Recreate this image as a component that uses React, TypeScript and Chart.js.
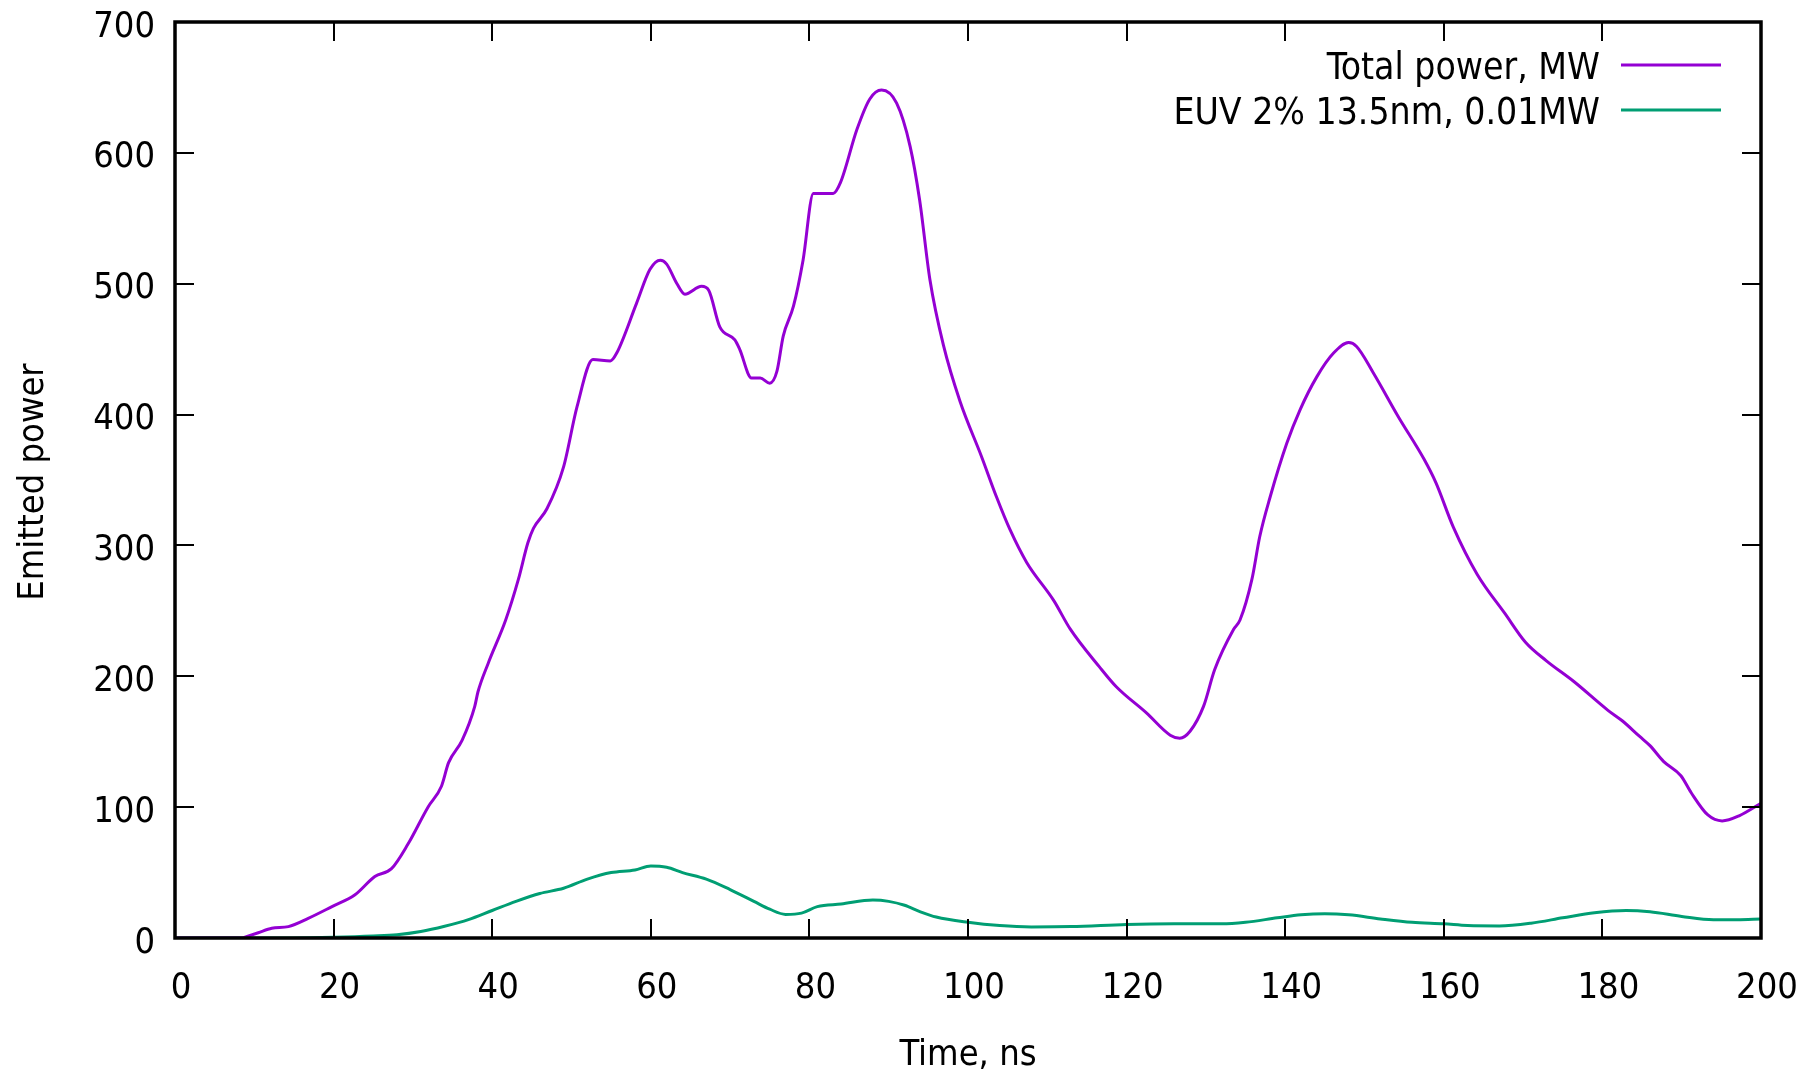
import React, { useEffect, useRef } from "react";
import { Chart, registerables } from "chart.js";

Chart.register(...registerables);

// ---- Data ----
const totalTime = [0, 8.5, 9, 10.5, 12.2, 14.3, 16.8, 19.8, 22.7, 25.2, 27.3, 29.4, 31.9, 33.6, 34.5, 36.2, 37.8, 38.2, 39.5, 41.7, 43.3, 44.5, 45.2, 46.9, 49.0, 50.7, 52.7, 54.9, 55.7, 58.2, 59.9, 61.2, 62.0, 63.3, 64.3, 66.4, 67.3, 68.7, 70.6, 71.2, 72.7, 73.8, 75.0, 75.9, 76.7, 78.0, 79.2, 80.5, 83.0, 83.9, 86.0, 87.6, 89.1, 91.0, 92.7, 93.9, 95.2, 96.9, 99.0, 101.7, 103.6, 105.3, 107.4, 110.8, 112.9, 116.6, 118.7, 122.5, 125.5, 126.7, 128.0, 129.7, 131.1, 133.5, 134.3, 135.8, 136.8, 138.1, 140.2, 141.9, 144.0, 146.1, 148.0, 149.0, 151.1, 154.3, 157.5, 159.0, 161.2, 164.2, 167.7, 170.3, 172.9, 176.4, 180.7, 182.5, 184.7, 186.0, 187.7, 189.9, 191.2, 193.3, 195.1, 197.3, 200];
const totalPower = [0, 0, 1, 4, 7.4, 8.7, 15, 24, 33, 47, 53, 72, 100, 116, 134, 151, 177, 188, 210, 243, 274, 302, 313, 328, 360, 406, 442, 441, 447, 485, 511, 518, 515, 500, 492, 498, 495, 467, 457, 450, 428, 428, 424, 433, 460, 483, 518, 569, 569, 577, 618, 641, 648, 638, 605, 564, 503, 453, 410, 368, 337, 312, 287, 258, 236, 207, 192, 172, 155, 152.7, 158, 177, 205, 236, 243, 274, 307, 337, 378, 404, 429, 447, 455, 452, 432, 398, 366, 348, 314, 278, 248, 226, 212, 196, 174, 166, 154, 147, 135, 124, 111, 94, 89.5, 93.6, 103];

const euvTime = [0, 10, 15, 20, 25, 28, 31, 34, 37, 40, 43, 46, 49, 52, 55, 58, 60, 62, 64, 67, 70, 73, 75, 77, 79, 81, 84, 88, 90, 92, 94, 96, 100, 104, 108, 113, 120, 126, 132, 135, 139, 142, 145, 148, 152, 156, 160, 163, 167, 171, 175, 179, 183, 186, 190, 194, 197, 200];
const euvPower = [0, 0, 0, 0.5, 1.5, 2.5, 5, 9, 14, 21, 28, 34, 38, 45, 50, 52, 55, 54, 50, 45, 37, 28, 22, 18, 19, 24, 26, 29, 28, 25, 20, 16, 12, 9.5, 8.5, 8.7, 10.3, 10.8, 10.8, 12, 15.4, 17.7, 18.5, 17.7, 14.6, 12, 10.8, 9.5, 9.2, 11.3, 15.4, 19.3, 21, 20, 16.5, 14, 14, 14.6];

const xTicks = [0, 20, 40, 60, 80, 100, 120, 140, 160, 180, 200];
const yTicks = [0, 100, 200, 300, 400, 500, 600, 700];
const seriesLabels = ["Total power, MW", "EUV 2% 13.5nm, 0.01MW"];
const seriesColors = ["#9400D3", "#009E73"];
const xTitle = "Time, ns";
const yTitle = "Emitted power";

const FONT = '"DejaVu Sans Condensed", "DejaVu Sans", sans-serif';
const FS = 36;

const decorPlugin = {
  id: "gnuplotDecor",
  afterDatasetsDraw(chart: any) {
    const ctx = chart.ctx;
    const { left, right, top, bottom } = chart.chartArea;
    const xs = chart.scales.x;
    const ys = chart.scales.y;
    ctx.save();
    // ticks (inward, mirrored)
    ctx.strokeStyle = "#000";
    ctx.lineWidth = 2;
    const tl = 19;
    ctx.beginPath();
    for (const v of xTicks) {
      const px = Math.round(xs.getPixelForValue(v));
      ctx.moveTo(px, bottom);
      ctx.lineTo(px, bottom - tl);
      ctx.moveTo(px, top);
      ctx.lineTo(px, top + tl);
    }
    for (const v of yTicks) {
      const py = Math.round(ys.getPixelForValue(v));
      ctx.moveTo(left, py);
      ctx.lineTo(left + tl, py);
      ctx.moveTo(right, py);
      ctx.lineTo(right - tl, py);
    }
    ctx.stroke();
    // frame
    ctx.lineWidth = 3.5;
    ctx.strokeRect(left, top, right - left, bottom - top);

    // tick labels
    ctx.fillStyle = "#000";
    ctx.font = `${FS}px ${FONT}`;
    ctx.textAlign = "right";
    ctx.textBaseline = "alphabetic";
    for (const v of yTicks) {
      const py = ys.getPixelForValue(v);
      ctx.fillText(String(v), 155, py + 14.5);
    }
    ctx.textAlign = "center";
    for (const v of xTicks) {
      const px = xs.getPixelForValue(v);
      ctx.fillText(String(v), px + 6, 998);
    }
    // axis titles
    ctx.fillText(xTitle, (left + right) / 2, 1065);
    ctx.save();
    ctx.translate(42.5, 482);
    ctx.rotate(-Math.PI / 2);
    ctx.fillText(yTitle, 0, 0);
    ctx.restore();

    // legend
    ctx.textAlign = "right";
    ctx.font = `${FS + 1}px ${FONT}`;
    const legY = [65, 110];
    seriesLabels.forEach((lab, i) => {
      ctx.fillStyle = "#000";
      ctx.fillText(lab, 1600, legY[i] + 13.5);
      ctx.strokeStyle = seriesColors[i];
      ctx.lineWidth = 3;
      ctx.beginPath();
      ctx.moveTo(1621, legY[i]);
      ctx.lineTo(1721, legY[i]);
      ctx.stroke();
    });
    ctx.restore();
  },
};

export default function App() {
  const ref = useRef<HTMLCanvasElement>(null);
  useEffect(() => {
    if (!ref.current) return;
    const chart = new Chart(ref.current, {
      type: "line",
      data: {
        datasets: [
          {
            label: seriesLabels[0],
            data: totalTime.map((t, i) => ({ x: t, y: totalPower[i] })),
            borderColor: seriesColors[0],
            borderWidth: 3,
            pointRadius: 0,
            cubicInterpolationMode: "monotone",
            fill: false,
          },
          {
            label: seriesLabels[1],
            data: euvTime.map((t, i) => ({ x: t, y: euvPower[i] })),
            borderColor: seriesColors[1],
            borderWidth: 3,
            pointRadius: 0,
            cubicInterpolationMode: "monotone",
            fill: false,
          },
        ],
      },
      options: {
        animation: false,
        responsive: true,
        maintainAspectRatio: false,
        layout: { padding: { left: 175, right: 53, top: 22, bottom: 137 } },
        plugins: { legend: { display: false }, tooltip: { enabled: false }, title: { display: false } },
        scales: {
          x: { type: "linear", display: false, min: 0, max: 200 },
          y: { type: "linear", display: false, min: 0, max: 700 },
        },
      },
      plugins: [decorPlugin],
    });
    return () => chart.destroy();
  }, []);
  return (
    <div style={{ position: "fixed", left: 0, top: 0, width: 1814, height: 1075, background: "#fff" }}>
      <canvas ref={ref} />
    </div>
  );
}
